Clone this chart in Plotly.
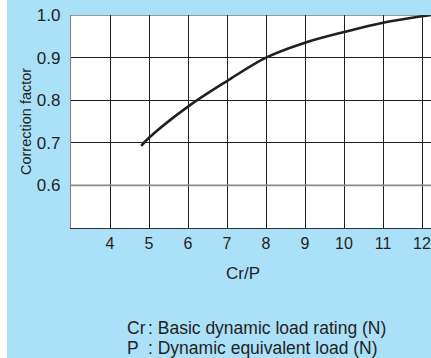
import plotly.graph_objects as go

# Data
cr_p = [4.8, 5, 6, 7, 8, 9, 10, 11, 12, 12.23]
factor = [0.693, 0.712, 0.785, 0.845, 0.900, 0.935, 0.960, 0.982, 0.997, 1.0]
x_ticks = [4, 5, 6, 7, 8, 9, 10, 11, 12]
y_ticks = [0.6, 0.7, 0.8, 0.9, 1.0]
y_tick_labels = ["0.6", "0.7", "0.8", "0.9", "1.0"]

BLUE = "#abe0f9"
INK = "#231f20"
FONT = "Liberation Sans, Arial, sans-serif"

W, H = 431, 358
L, R, T, B = 71, 0, 15, 130
pw, ph = W - L - R, H - T - B

def px(x):
    return (x - L) / pw

def py(y):
    return (H - B - y) / ph

fig = go.Figure()
fig.add_trace(go.Scatter(
    x=cr_p, y=factor, mode="lines",
    line=dict(color=INK, width=2.6, shape="spline", smoothing=1.0),
    hoverinfo="skip", showlegend=False, cliponaxis=True,
))

fig.update_layout(
    width=W, height=H,
    margin=dict(l=L, r=R, t=T, b=B, pad=0),
    paper_bgcolor=BLUE, plot_bgcolor="white",
    font=dict(family=FONT, color=INK),
    showlegend=False,
    xaxis=dict(
        range=[3, 3 + pw / 39.0], tickvals=x_ticks,
        showgrid=True, gridcolor=INK, gridwidth=1,
        showline=True, linecolor="#333333", linewidth=1.2,
        ticks="", tickfont=dict(size=16, color=INK), ticklabelstandoff=1,
        zeroline=False, fixedrange=True,
    ),
    yaxis=dict(
        range=[0.5, 1.0], tickvals=y_ticks, ticktext=y_tick_labels,
        showgrid=True, gridcolor=INK, gridwidth=1,
        showline=True, linecolor="#808080", linewidth=1.2,
        ticks="", tickfont=dict(size=17, color=INK), ticklabelstandoff=6,
        zeroline=False, fixedrange=True,
    ),
    shapes=[
        # white strip at the far left
        dict(type="rect", xref="paper", yref="paper",
             x0=px(0), x1=px(7), y0=py(H + 2), y1=py(-2),
             fillcolor="white", line=dict(width=0), layer="below"),
        # grey 0.6 line
        dict(type="line", xref="paper", yref="y", x0=0, x1=1, y0=0.6, y1=0.6,
             line=dict(color="#8a8a8a", width=1.6), layer="above"),
        # top border
        dict(type="line", xref="paper", yref="y", x0=0, x1=1, y0=1.0, y1=1.0,
             line=dict(color="#333333", width=1.2), layer="above"),
    ],
    annotations=[
        dict(text="Correction factor", x=px(26), y=py(122), xref="paper", yref="paper",
             textangle=-90, showarrow=False, font=dict(size=14.5, color=INK),
             xanchor="center", yanchor="middle"),
        dict(text="Cr/P", x=px(243), y=py(273), xref="paper", yref="paper",
             showarrow=False, font=dict(size=17, color=INK),
             xanchor="center", yanchor="middle"),
        dict(text="Cr", x=px(125), y=py(328), xref="paper", yref="paper",
             showarrow=False, font=dict(size=17.5, color=INK),
             xanchor="left", yanchor="middle"),
        dict(text=": Basic dynamic load rating (N)", x=px(146), y=py(328),
             xref="paper", yref="paper", showarrow=False,
             font=dict(size=17.5, color=INK), xanchor="left", yanchor="middle"),
        dict(text="P", x=px(125), y=py(348), xref="paper", yref="paper",
             showarrow=False, font=dict(size=17.5, color=INK),
             xanchor="left", yanchor="middle"),
        dict(text=": Dynamic equivalent load (N)", x=px(146), y=py(348),
             xref="paper", yref="paper", showarrow=False,
             font=dict(size=17.5, color=INK), xanchor="left", yanchor="middle"),
    ],
)

fig.write_html("out.html", config={"displayModeBar": False},
               post_script="document.body.style.margin='0';document.body.style.overflow='hidden';")
